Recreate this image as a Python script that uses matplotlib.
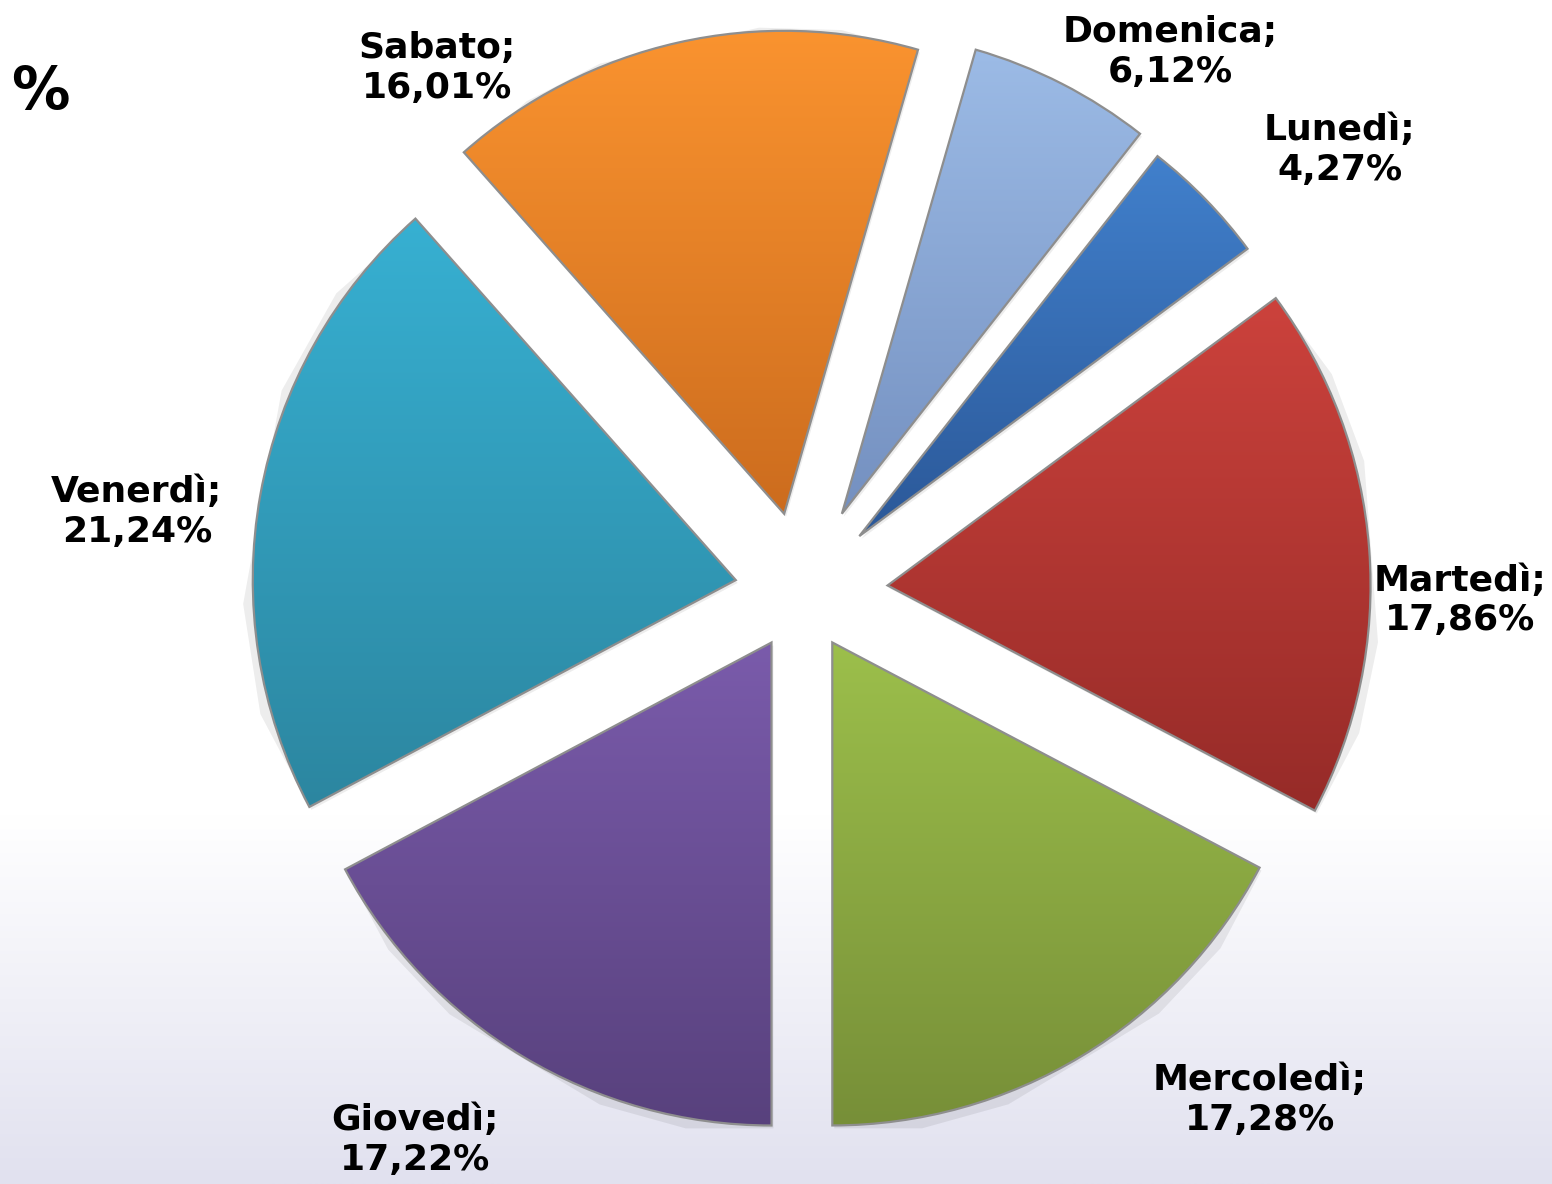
import matplotlib.pyplot as plt
import numpy as np
from matplotlib.colors import LinearSegmentedColormap

# Distribuzione per giorno della settimana (%)
giorni = ['Lunedì', 'Martedì', 'Mercoledì', 'Giovedì', 'Venerdì', 'Sabato', 'Domenica']
percentuali = [4.27, 17.86, 17.28, 17.22, 21.24, 16.01, 6.12]
esplosione = [0.166, 0.178, 0.122, 0.122, 0.139, 0.166, 0.182]

# colori fetta: parte alta / parte bassa
colori_alto = ['#4180cc', '#cc423c', '#9cbf4b', '#7a5bab', '#37b0d2', '#fa932f', '#9cbbe6']
colori_basso = ['#2b5898', '#962b28', '#778f38', '#58417d', '#2c86a0', '#cc6c1e', '#7490c0']

# posizione delle etichette (coordinate dati)
pos_etichette = [(1.114, 0.915), (1.362, -0.017), (0.948, -1.052), (-0.801, -1.135),
                 (-1.377, 0.166), (-0.756, 1.085), (0.762, 1.118)]

plt.rcParams['font.family'] = 'DejaVu Sans'

fig = plt.figure(figsize=(15.52, 11.84), dpi=100)

# sfondo: bianco in alto, sfumato verso lavanda in basso
bg = fig.add_axes([0, 0, 1, 1])
yy = np.linspace(1, 0, 400)
t = np.clip(yy / 0.31, 0, 1)[:, None]
top = np.array([1.0, 1.0, 1.0])
bottom = np.array([225, 225, 239]) / 255
img = top * t[..., None] + bottom * (1 - t[..., None])
img = np.repeat(img, 2, axis=1)
bg.imshow(img, aspect='auto', extent=[0, 1, 0, 1], interpolation='bilinear')
bg.axis('off')

ax = fig.add_axes([0, 0, 1, 1])
ax.patch.set_alpha(0)
wedges, _ = ax.pie(percentuali, explode=esplosione, startangle=51.88, counterclock=False,
                   colors=colori_basso, radius=1,
                   wedgeprops=dict(edgecolor='#8e8e8e', linewidth=1.6))

grad = np.linspace(0, 1, 256)[:, None]
for i, w in enumerate(wedges):
    # ombra leggera
    ombra = plt.Polygon(w.get_path().vertices + np.array([0.004, -0.006]),
                        closed=True, facecolor='#000000', alpha=0.07, edgecolor='none', zorder=0.4)
    ax.add_patch(ombra)
    ext = w.get_path().get_extents()
    cmap = LinearSegmentedColormap.from_list('f%d' % i, [colori_basso[i], colori_alto[i]])
    im = ax.imshow(grad, cmap=cmap, origin='lower', aspect='auto',
                   extent=[ext.x0, ext.x1, ext.y0, ext.y1], zorder=0.8, interpolation='bilinear')
    im.set_clip_path(w)
    w.set_facecolor('none')
    w.set_zorder(1)

for giorno, val, (x, y) in zip(giorni, percentuali, pos_etichette):
    testo = '%s;\n%s%%' % (giorno, ('%.2f' % val).replace('.', ','))
    ax.text(x, y, testo, ha='center', va='center', fontsize=26, fontweight='bold',
            color='black', linespacing=1.2)

ax.set_xlim(-1.660, 1.553)
ax.set_ylim(-1.2257, 1.2257)
ax.set_aspect('equal')
ax.axis('off')

fig.text(0.007, 0.922, '%', fontsize=42, fontweight='bold', ha='left', va='center', color='black')

fig.savefig('out.png', dpi=100)
